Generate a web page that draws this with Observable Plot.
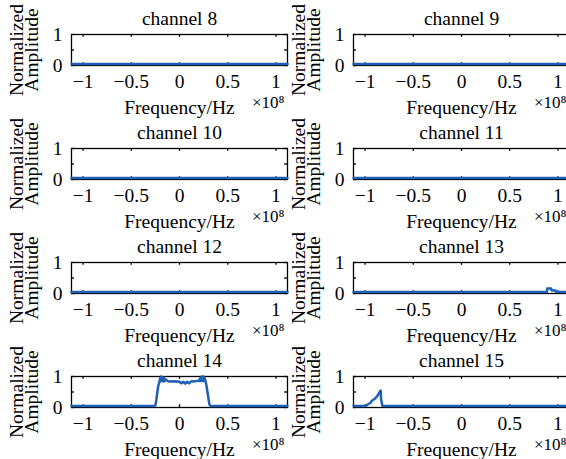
<!DOCTYPE html>
<html>
<head>
<meta charset="utf-8">
<script src="https://cdn.jsdelivr.net/npm/d3@7"></script>
<script src="https://cdn.jsdelivr.net/npm/@observablehq/plot@0.6"></script>
<style>
  html, body { margin: 0; padding: 0; background: #fff; }
  #fig { position: relative; width: 566px; height: 459px; overflow: hidden; background: #fff; }
  #fig svg { position: absolute; overflow: visible; }
  #fig svg text { font-family: 'Liberation Serif', 'Times New Roman', Times, serif; }
</style>
</head>
<body>
<div id="fig"></div>
<script>
// ---- data (frequency in units of 1e8 Hz, normalized amplitude) ----
const xTicks = [-1, -0.5, 0, 0.5, 1];
const yTicks = [0, 0.5, 1];
const yTickLabels = [0, 1];
const channels = ["channel 8", "channel 9", "channel 10", "channel 11", "channel 12", "channel 13", "channel 14", "channel 15"];

const freqFlat = [-1.12, -0.5, 0, 0.5, 1.12];
const ampFlat  = [0.045, 0.045, 0.045, 0.045, 0.045];

const freq13 = [-1.12, 0, 0.885, 0.89, 0.93, 0.935, 0.975, 0.98, 1.12];
const amp13  = [0.045, 0.045, 0.045, 0.16, 0.16, 0.10, 0.10, 0.045, 0.045];

const freq14 = [-1.12, -0.27, -0.25, -0.24, -0.23, -0.22, -0.21, -0.20, -0.195, -0.19, -0.185, -0.18, -0.175, -0.17, -0.165, -0.16, -0.15, -0.14, -0.12, -0.10, -0.06, -0.02, 0.00, 0.02, 0.04, 0.06, 0.08, 0.10, 0.12, 0.16, 0.20, 0.21, 0.215, 0.22, 0.225, 0.23, 0.235, 0.24, 0.245, 0.25, 0.255, 0.26, 0.27, 0.28, 0.29, 0.30, 0.31, 0.32, 1.12];
const amp14  = [0.045, 0.045, 0.07, 0.25, 0.5, 0.7, 0.8, 0.95, 0.85, 1.0, 0.86, 0.98, 0.85, 0.97, 0.84, 0.95, 0.86, 0.9, 0.85, 0.84, 0.85, 0.84, 0.83, 0.78, 0.83, 0.77, 0.83, 0.78, 0.84, 0.85, 0.86, 0.92, 0.85, 0.97, 0.86, 1.0, 0.86, 0.98, 0.85, 1.0, 0.87, 0.95, 0.85, 0.7, 0.5, 0.3, 0.1, 0.05, 0.045];

const freq15 = [-1.12, -1.0, -0.99, -0.96, -0.94, -0.93, -0.91, -0.90, -0.87, -0.845, -0.838, -0.834, -0.82, -0.81, 1.12];
const amp15  = [0.045, 0.045, 0.06, 0.12, 0.16, 0.22, 0.26, 0.28, 0.38, 0.52, 0.55, 0.26, 0.06, 0.045, 0.045];

const series = [
  [freqFlat, ampFlat], [freqFlat, ampFlat],
  [freqFlat, ampFlat], [freqFlat, ampFlat],
  [freqFlat, ampFlat], [freq13, amp13],
  [freq14, amp14], [freq15, amp15]
];

const BLUE = "#1f5fb4";
const FONT = "'Liberation Serif', 'Times New Roman', Times, serif";
const fmt = d => d < 0 ? "\u2212" + Math.abs(d) : String(d);

const fig = document.getElementById("fig");
const xmin = -1.12, xmax = 1.12;

channels.forEach((title, i) => {
  const col = i % 2, row = Math.floor(i / 2);
  const [fx, fy] = series[i];
  const data = fx.map((f, k) => ({f, a: fy[k]}));
  const svg = Plot.plot({
    width: 290, height: 114,
    marginLeft: 71, marginRight: 3, marginTop: 34, marginBottom: 49,
    x: {domain: [xmin, xmax]},
    y: {domain: [0, 1]},
    style: {fontFamily: FONT, fontSize: "19.5px", color: "black", background: "transparent", overflow: "visible"},
    marks: [
      Plot.frame({stroke: "black", strokeWidth: 1.3}),
      Plot.ruleX(xTicks, {x: d => d, y1: 0, y2: 0.09, stroke: "black", strokeWidth: 1.3}),
      Plot.ruleX(xTicks, {x: d => d, y1: 0.91, y2: 1, stroke: "black", strokeWidth: 1.3}),
      Plot.ruleY(yTicks, {y: d => d, x1: xmin, x2: xmin + 0.031, stroke: "black", strokeWidth: 1.3}),
      Plot.ruleY(yTicks, {y: d => d, x1: xmax - 0.031, x2: xmax, stroke: "black", strokeWidth: 1.3}),
      Plot.line(data, {x: "f", y: "a", stroke: BLUE, strokeWidth: 2.5}),
      Plot.axisX(xTicks, {tickSize: 0, tickPadding: 9, tickFormat: fmt, label: null, fontSize: 19.5}),
      Plot.axisY(yTickLabels, {tickSize: 0, tickPadding: 9, label: null, fontSize: 19.5}),
      Plot.text([title], {frameAnchor: "top", lineAnchor: "middle", dy: -16, text: d => d, fontSize: 19.5}),
      Plot.text(["Frequency/Hz"], {frameAnchor: "bottom", lineAnchor: "middle", dy: 42, text: d => d, fontSize: 19.5}),
      Plot.text(["\u00d710\u2078"], {frameAnchor: "bottom-right", lineAnchor: "middle", textAnchor: "end", dx: -3, dy: 37, text: d => d, fontSize: 17}),
      Plot.text(["Normalized\nAmplitude"], {frameAnchor: "left", textAnchor: "middle", lineAnchor: "middle", rotate: -90, dx: -45.5, lineHeight: 0.75, text: d => d, fontSize: 19.5})
    ]
  });
  svg.style.left = (col * 282) + "px";
  svg.style.top = (row * 114) + "px";
  fig.appendChild(svg);
});
</script>
</body>
</html>
